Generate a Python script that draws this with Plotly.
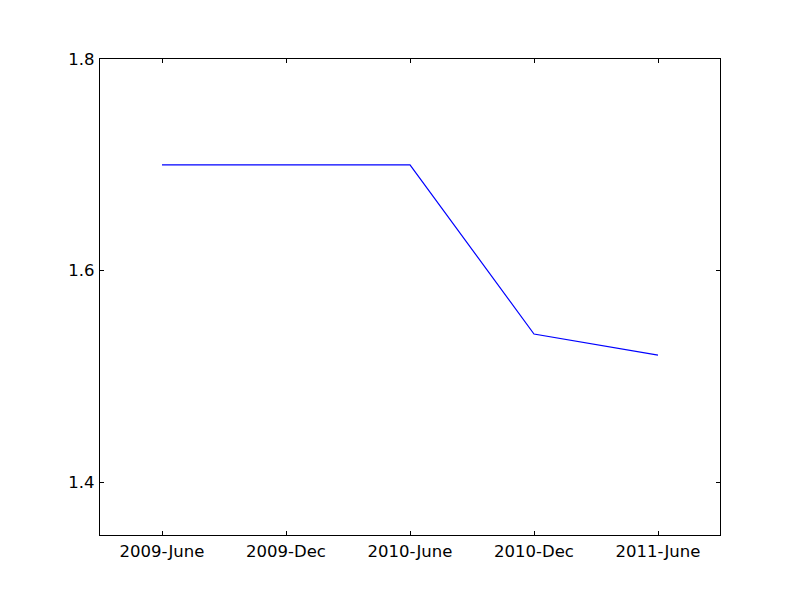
import plotly.graph_objects as go

categories = ["2009-June", "2009-Dec", "2010-June", "2010-Dec", "2011-June"]
values = [1.70, 1.70, 1.70, 1.54, 1.52]
y_ticks = [1.4, 1.6, 1.8]

fig = go.Figure()
fig.add_trace(go.Scatter(x=list(range(len(categories))), y=values, mode="lines",
                         line=dict(color="#0000ff", width=1.2)))

axis_common = dict(showgrid=False, zeroline=False, showline=True, linecolor="black",
                   linewidth=1.2, mirror="ticks", ticks="inside", ticklen=4,
                   tickwidth=1, tickcolor="black",
                   tickfont=dict(family="DejaVu Sans", size=16.5, color="black"))

fig.update_layout(
    width=800, height=596,
    margin=dict(l=92, r=88, t=51, b=69),
    paper_bgcolor="white", plot_bgcolor="white",
    showlegend=False,
    xaxis=dict(range=[-0.5, 4.5], tickvals=list(range(len(categories))),
               ticktext=categories, ticklabelstandoff=1, **axis_common),
    yaxis=dict(range=[1.35, 1.8], tickvals=y_ticks, ticktext=["1.4", "1.6", "1.8"],
               ticklabelstandoff=1, **axis_common),
)
fig.write_html("out.html")
